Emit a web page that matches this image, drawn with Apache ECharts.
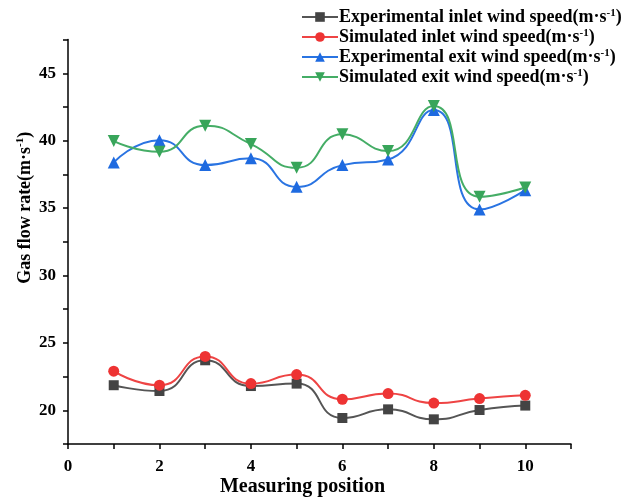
<!DOCTYPE html>
<html>
<head>
<meta charset="utf-8">
<script src="https://cdn.jsdelivr.net/npm/echarts@6/dist/echarts.min.js"></script>
<style>html,body{margin:0;padding:0;background:#fff}#c{width:624px;height:498px}</style>
</head>
<body>
<div id="c"></div>
<script>
const positions = [1, 2, 3, 4, 5, 6, 7, 8, 9, 10];
const expInlet = [21.86, 21.43, 23.71, 21.80, 21.98, 19.43, 20.07, 19.33, 20.02, 20.35];
const simInlet = [22.90, 21.86, 24.00, 21.98, 22.65, 20.82, 21.24, 20.54, 20.87, 21.11];
const expExit  = [38.39, 40.04, 38.19, 38.69, 36.58, 38.19, 38.61, 42.27, 34.90, 36.33];
const simExit  = [39.97, 39.18, 41.10, 39.75, 37.99, 40.47, 39.23, 42.57, 35.84, 36.53];
const seriesNames = [
  'Experimental inlet wind speed',
  'Simulated inlet wind speed',
  'Experimental exit wind speed',
  'Simulated exit wind speed'
];
const yTickLabels = [20, 25, 30, 35, 40, 45];
const xTickLabels = [0, 2, 4, 6, 8, 10];

const serif = '"Liberation Serif", "Times New Roman", serif';
const pairs = (ys) => positions.map((x, i) => [x, ys[i]]);

const chart = echarts.init(document.getElementById('c'), null, {renderer: 'canvas'});
const mk = (name, data, color, lineColor, symbol, size, rotate) => ({
  name: name,
  type: 'line',
  data: pairs(data),
  smooth: 0.55,
  symbol: symbol,
  symbolSize: size,
  symbolRotate: rotate || 0,
  showSymbol: true,
  lineStyle: {color: lineColor, width: 2},
  itemStyle: {color: color},
  emphasis: {disabled: true},
  z: 2
});

chart.setOption({
  animation: false,
  backgroundColor: '#fff',
  grid: {left: 68, right: 53, top: 39.6, bottom: 54, containLabel: false, outerBoundsMode: 'none'},
  legend: {
    orient: 'vertical',
    left: 296,
    top: 3,
    itemWidth: 36,
    itemHeight: 12,
    itemGap: 2,
    data: seriesNames,
    formatter: (n) => '{a|' + n + '(m·s}{s|-1}{a|)}',
    textStyle: {
      fontFamily: serif,
      fontWeight: 'bold',
      fontSize: 18,
      color: '#000',
      padding: [0, 0, 0, -4],
      rich: {
        a: {fontFamily: serif, fontWeight: 'bold', fontSize: 18, color: '#000', lineHeight: 18},
        s: {fontFamily: serif, fontWeight: 'bold', fontSize: 11, color: '#000', verticalAlign: 'top', lineHeight: 18}
      }
    }
  },
  xAxis: {
    type: 'value',
    min: 0, max: 11, interval: 1,
    name: 'Measuring position',
    nameLocation: 'middle',
    nameGap: 33,
    nameMoveOverlap: false,
    nameTextStyle: {fontFamily: serif, fontWeight: 'bold', fontSize: 20, color: '#000', padding: [0, 34, 0, 0]},
    axisLine: {show: true, onZero: false, lineStyle: {color: '#000', width: 1.5}},
    axisTick: {show: true, length: 5, lineStyle: {color: '#000', width: 1.5}},
    axisLabel: {
      margin: 14,
      fontFamily: serif, fontWeight: 'bold', fontSize: 17, color: '#000',
      formatter: (v) => xTickLabels.includes(v) ? String(v) : ''
    },
    splitLine: {show: false}
  },
  yAxis: {
    type: 'value',
    min: 17.5, max: 47.5, interval: 2.5,
    name: '{a|Gas flow rate(m·s}{s|-1}{a|)}',
    nameLocation: 'middle',
    nameGap: 33,
    nameMoveOverlap: false,
    nameTextStyle: {
      padding: [0, 0, 0, 68],
      rich: {
        a: {fontFamily: serif, fontWeight: 'bold', fontSize: 18, color: '#000', lineHeight: 20},
        s: {fontFamily: serif, fontWeight: 'bold', fontSize: 11, color: '#000', verticalAlign: 'top', lineHeight: 20}
      }
    },
    axisLine: {show: true, onZero: false, lineStyle: {color: '#000', width: 1.5}},
    axisTick: {show: true, length: 5, lineStyle: {color: '#000', width: 1.5}},
    axisLabel: {
      margin: 12,
      fontFamily: serif, fontWeight: 'bold', fontSize: 17, color: '#000',
      formatter: (v) => yTickLabels.includes(v) ? String(v) : ''
    },
    splitLine: {show: false}
  },
  series: [
    mk(seriesNames[0], expInlet, '#444444', '#555555', 'rect', 10),
    mk(seriesNames[1], simInlet, '#ee3333', '#ee4444', 'circle', 11),
    mk(seriesNames[2], expExit, '#1e6ae0', '#2a74e2', 'triangle', 12),
    mk(seriesNames[3], simExit, '#38a55a', '#45ad66', 'triangle', 12, 180)
  ]
});
</script>
</body>
</html>
